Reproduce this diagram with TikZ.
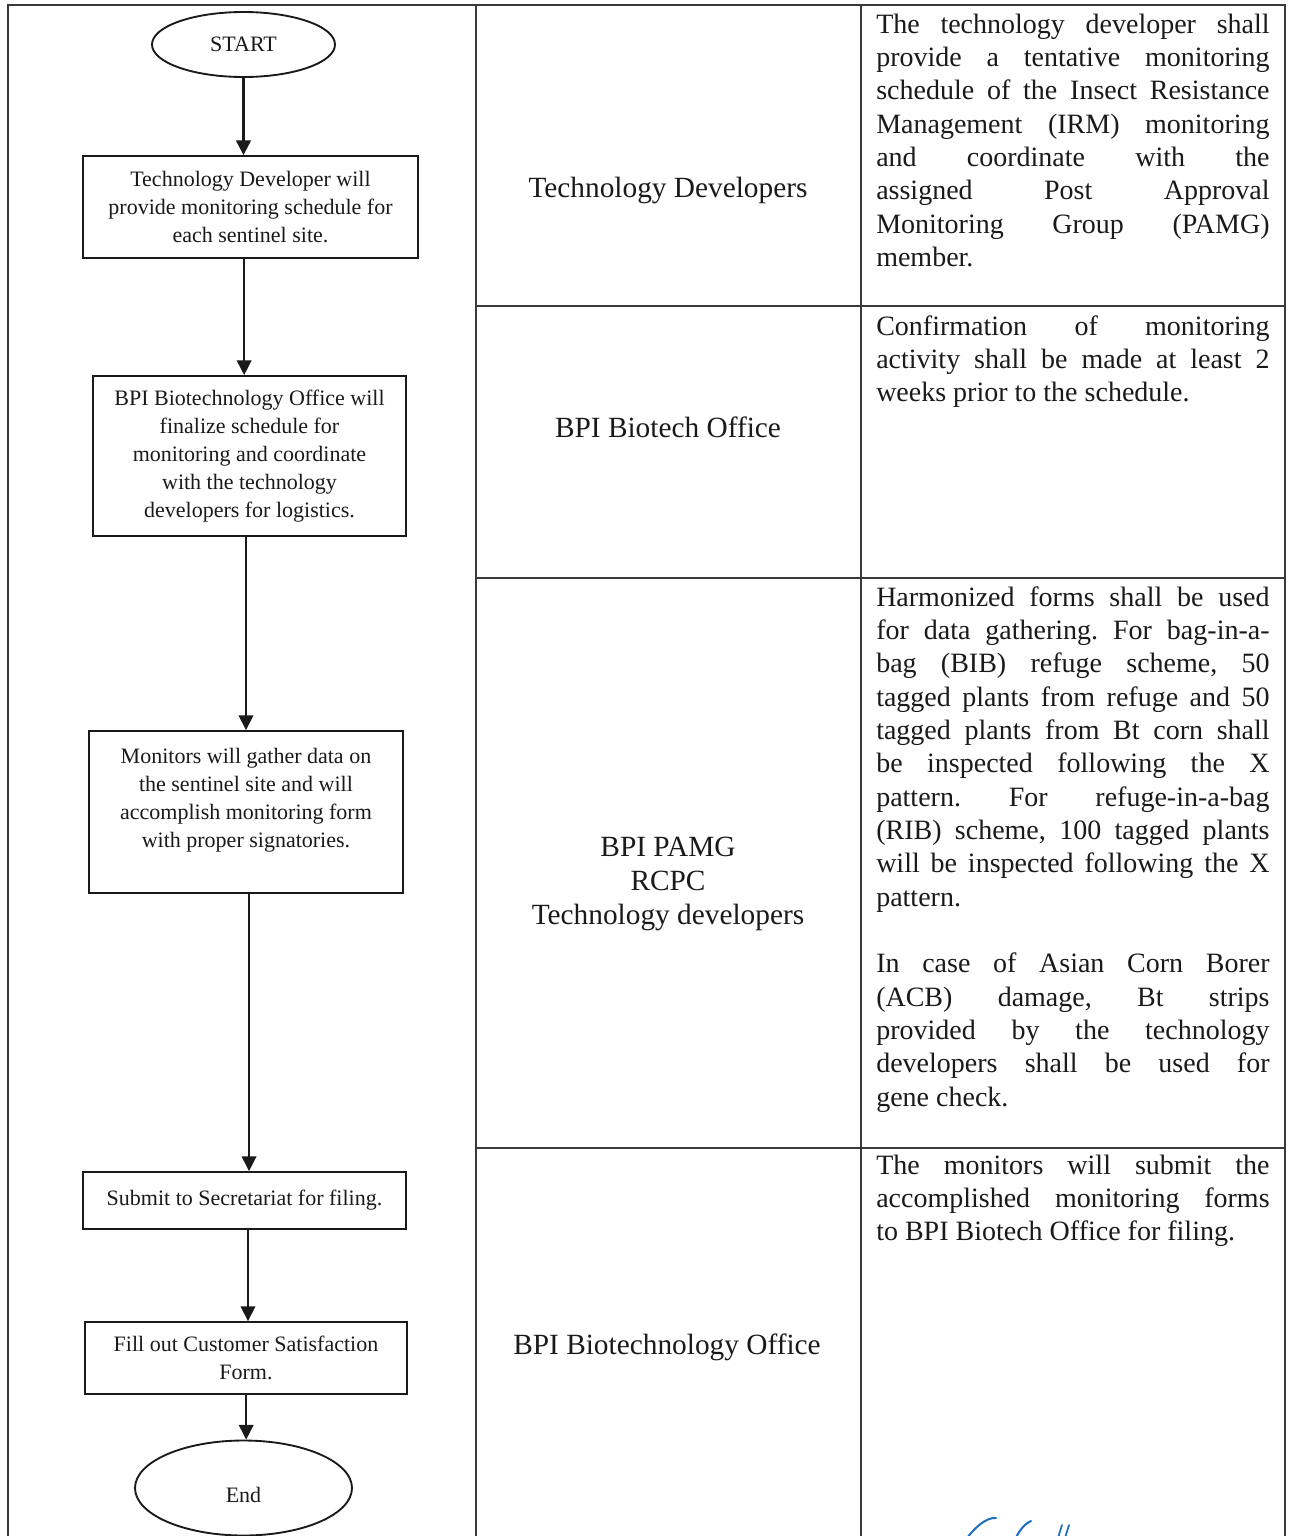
\documentclass[tikz,border=0pt]{standalone}
\usepackage{fontspec}
\setmainfont{Liberation Serif}
\usetikzlibrary{arrows.meta,shapes.geometric}
\definecolor{ink}{HTML}{1A1A1A}
\definecolor{rulec}{HTML}{3A3A3A}
\definecolor{sigc}{HTML}{1E6FC0}
\newcommand{\ftext}{\fontsize{16.5}{21}\selectfont}
\newcommand{\mtext}{\fontsize{22}{25.5}\selectfont}
\newcommand{\rtext}{\fontsize{21}{25}\selectfont\frenchspacing}
\newcommand{\JL}[1]{\hbox to 295pt{\strut#1}}
\newcommand{\LL}[1]{\hbox to 295pt{\strut#1\hfil}}
\newcommand{\BL}{\hbox{\strut}}
\begin{document}
\begin{tikzpicture}[x=0.75pt,y=-0.75pt,
  tbl/.style={draw=rulec,line width=1.1pt},
  flowbox/.style={draw=ink,line width=1.4pt,rectangle,inner sep=0pt,align=center,font=\ftext,text=ink},
  term/.style={draw=ink,line width=1.4pt,ellipse,inner sep=0pt,font=\ftext,text=ink},
  arr/.style={draw=ink,line width=1.1pt,-{Triangle[length=11pt,width=11pt]}},
  midtxt/.style={inner sep=0pt,align=center,font=\mtext,text=ink},
  desc/.style={inner sep=0pt,anchor=base west,text=ink}]
\useasboundingbox (0,0) rectangle (1291,1536);
\clip (0,0) rectangle (1291,1536);
\fill[white] (0,0) rectangle (1291,1536);
% table
\draw[tbl] (8,1540) -- (8,5) -- (1285,5) -- (1285,1540);
\draw[tbl] (476,5) -- (476,1540);
\draw[tbl] (861,5) -- (861,1540);
\draw[tbl] (476,306) -- (1285,306);
\draw[tbl] (476,578) -- (1285,578);
\draw[tbl] (476,1148) -- (1285,1148);
% flowchart
\node[term,minimum width=137.25pt,minimum height=48.75pt] (start) at (243.5,44.5) {START};
\node[flowbox,minimum width=251.25pt,minimum height=76.5pt] (b1) at (250.5,207)
  {Technology Developer will\\provide monitoring schedule for\\each sentinel site.};
\node[flowbox,minimum width=234.75pt,minimum height=120pt] (b2) at (249.5,456)
  {BPI Biotechnology Office will\\finalize schedule for\\monitoring and coordinate\\with the technology\\developers for logistics.};
\node[flowbox,minimum width=235.5pt,minimum height=121.5pt] (b3) at (246,812)
  {Monitors will gather data on\\the sentinel site and will\\accomplish monitoring form\\with proper signatories.\\\mbox{}};
\node[flowbox,minimum width=242.25pt,minimum height=42.75pt] (b4) at (244.5,1200.5)
  {Submit to Secretariat for filing.};
\node[flowbox,minimum width=241.5pt,minimum height=54pt] (b5) at (246,1358)
  {Fill out Customer Satisfaction\\Form.};
\node[term,minimum width=162.75pt,minimum height=71.25pt] (end) at (243.5,1488) {\raisebox{-11pt}[0pt][0pt]{End}};
\draw[arr,line width=1.7pt] (start.south) -- (start.south |- b1.north);
\draw[arr] ([xshift=-4pt]b2.north |- b1.south) -- ([xshift=-4pt]b2.north);
\draw[arr] (b3.north |- b2.south) -- (b3.north);
\draw[arr] ([xshift=3.4pt]b4.north |- b3.south) -- ([xshift=3.4pt]b4.north);
\draw[arr] ([xshift=1.5pt]b5.north |- b4.south) -- ([xshift=1.5pt]b5.north);
\draw[arr] ([xshift=2pt]end.north |- b5.south) -- ([xshift=2pt]end.north);
% middle column
\node[midtxt] (r1) at (668,190) {Technology Developers};
\node[midtxt] (r2) at (668,427) {BPI Biotech Office};
\node[midtxt] (r3) at (668,884) {BPI PAMG\\RCPC\\Technology developers};
\node[midtxt] (r4) at (667,1347) {BPI Biotechnology Office};
% right column
\node[desc] (d1) at (876,33) {\parbox[t]{295pt}{\rtext
  \JL{The technology developer shall}
  \JL{provide a tentative monitoring}
  \JL{schedule of the Insect Resistance}
  \JL{Management (IRM) monitoring}
  \JL{and coordinate with the}
  \JL{assigned Post Approval}
  \JL{Monitoring Group (PAMG)}
  \LL{member.}}};
\node[desc] (d2) at (876,335) {\parbox[t]{295pt}{\rtext
  \JL{Confirmation of monitoring}
  \JL{activity shall be made at least 2}
  \LL{weeks prior to the schedule.}}};
\node[desc] (d3) at (876,606) {\parbox[t]{295pt}{\rtext
  \JL{Harmonized forms shall be used}
  \JL{for data gathering. For bag-in-a-}
  \JL{bag (BIB) refuge scheme, 50}
  \JL{tagged plants from refuge and 50}
  \JL{tagged plants from Bt corn shall}
  \JL{be inspected following the X}
  \JL{pattern. For refuge-in-a-bag}
  \JL{(RIB) scheme, 100 tagged plants}
  \JL{will be inspected following the X}
  \LL{pattern.}
  \BL
  \JL{In case of Asian Corn Borer}
  \JL{(ACB) damage, Bt strips}
  \JL{provided by the technology}
  \JL{developers shall be used for}
  \LL{gene check.}}};
\node[desc] (d4) at (876,1174) {\parbox[t]{295pt}{\rtext
  \JL{The monitors will submit the}
  \JL{accomplished monitoring forms}
  \LL{to BPI Biotech Office for filing.}}};
% signature scribble
\draw[sigc,line width=1.5pt,line cap=round] (996,1518) .. controls (986,1517) and (974,1528) .. (964,1542);
\draw[sigc,line width=1.5pt,line cap=round] (1031,1521) .. controls (1024,1524) and (1018,1532) .. (1014,1542);
\draw[sigc,line width=1.3pt,line cap=round] (1062,1525) -- (1058,1538);
\draw[sigc,line width=1.3pt,line cap=round] (1069,1525) -- (1065,1538);
\end{tikzpicture}
\end{document}
